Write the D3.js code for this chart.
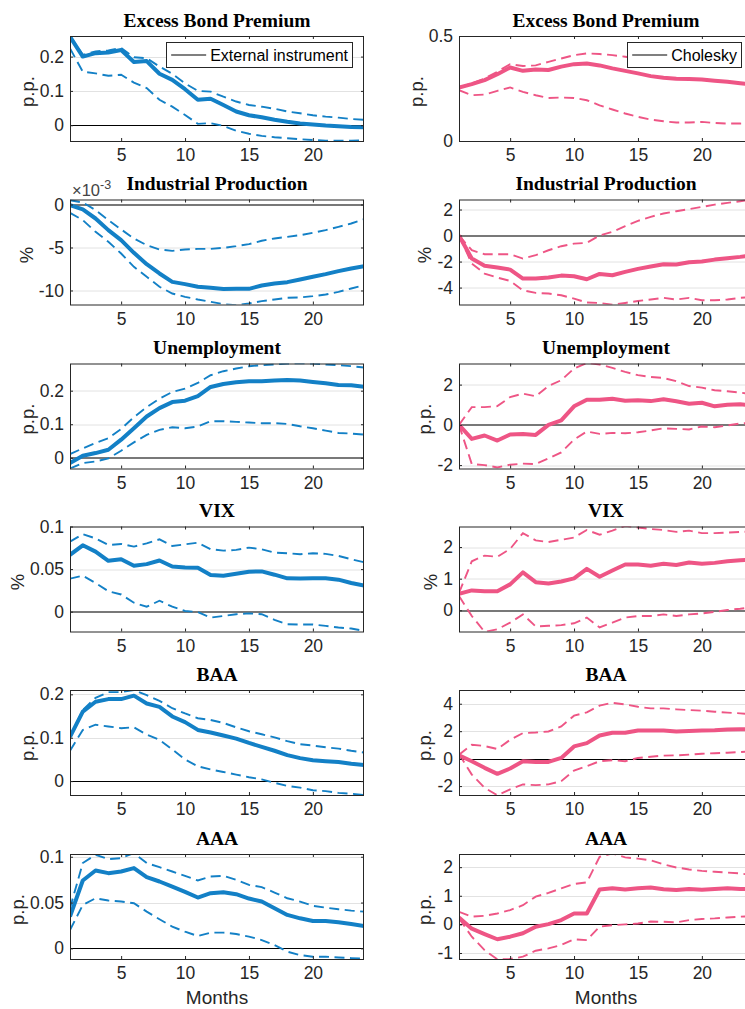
<!DOCTYPE html>
<html><head><meta charset="utf-8">
<script src="https://cdn.jsdelivr.net/npm/d3@7"></script>
<style>body{margin:0;background:#fff;overflow:hidden} svg{display:block}</style>
</head><body><svg id="c" width="745" height="1009"></svg>
<script>
const months = [1,2,3,4,5,6,7,8,9,10,11,12,13,14,15,16,17,18,19,20,21,22,23,24];
const xTicks = [5,10,15,20];
const titles = ["Excess Bond Premium","Industrial Production","Unemployment","VIX","BAA","AAA"];
const yLabels = ["p.p.","%","p.p.","%","p.p.","p.p."];
const legendLabels = ["External instrument","Cholesky"];

// External instrument (left column)
const ebpExtIrf = [0.258,0.200,0.210,0.212,0.219,0.184,0.187,0.150,0.132,0.105,0.074,0.077,0.059,0.040,0.029,0.023,0.016,0.010,0.005,0.002,-0.001,-0.003,-0.005,-0.006];
const ebpExtUp  = [0.260,0.205,0.215,0.218,0.225,0.198,0.195,0.171,0.150,0.122,0.100,0.098,0.083,0.069,0.059,0.054,0.048,0.040,0.035,0.029,0.025,0.022,0.018,0.016];
const ebpExtLo  = [0.224,0.156,0.151,0.144,0.147,0.124,0.108,0.074,0.054,0.030,0.004,0.006,-0.002,-0.016,-0.025,-0.031,-0.035,-0.038,-0.041,-0.043,-0.045,-0.045,-0.045,-0.044];
// Industrial production, in units of 1e-3
const ipExtIrf = [-0.08,-0.58,-1.63,-2.98,-4.15,-5.62,-6.94,-8.02,-9.00,-9.26,-9.57,-9.69,-9.84,-9.81,-9.81,-9.42,-9.19,-9.03,-8.72,-8.41,-8.10,-7.75,-7.44,-7.17];
const ipExtUp  = [0.50,0.23,-0.66,-1.82,-2.90,-3.95,-4.73,-5.23,-5.39,-5.23,-5.16,-5.16,-5.04,-4.84,-4.61,-4.22,-3.95,-3.76,-3.57,-3.29,-2.98,-2.60,-2.21,-1.71];
const ipExtLo  = [-0.97,-1.82,-3.18,-4.34,-5.70,-7.25,-8.41,-9.57,-10.35,-10.74,-11.05,-11.32,-11.59,-11.70,-11.51,-11.24,-11.05,-10.85,-10.81,-10.66,-10.47,-10.16,-9.77,-9.38];
const unExtIrf = [-0.016,0.006,0.014,0.024,0.054,0.088,0.123,0.148,0.166,0.170,0.184,0.211,0.220,0.225,0.228,0.228,0.230,0.232,0.230,0.226,0.222,0.217,0.216,0.212];
const unExtUp  = [0.011,0.028,0.044,0.058,0.086,0.121,0.151,0.176,0.196,0.206,0.223,0.246,0.258,0.266,0.273,0.276,0.278,0.281,0.282,0.281,0.278,0.276,0.273,0.269];
const unExtLo  = [-0.032,-0.016,-0.011,-0.002,0.021,0.046,0.068,0.083,0.091,0.088,0.093,0.109,0.109,0.107,0.105,0.103,0.103,0.101,0.094,0.088,0.081,0.074,0.072,0.069];
const vixExtIrf = [0.0667,0.0779,0.0705,0.0597,0.0616,0.0539,0.0558,0.0601,0.0531,0.0519,0.0516,0.0430,0.0422,0.0446,0.0469,0.0473,0.0434,0.0391,0.0388,0.0391,0.0391,0.0376,0.0337,0.0306];
const vixExtUp  = [0.0822,0.0911,0.0860,0.0783,0.0795,0.0764,0.0802,0.0849,0.0771,0.0791,0.0810,0.0733,0.0717,0.0725,0.0752,0.0733,0.0694,0.0686,0.0674,0.0686,0.0678,0.0655,0.0616,0.0581];
const vixExtLo  = [0.0388,0.0422,0.0337,0.0240,0.0202,0.0105,0.0058,0.0128,0.0058,0.0008,-0.0004,-0.0070,-0.0050,-0.0030,-0.0020,-0.0030,-0.0097,-0.0147,-0.0151,-0.0151,-0.0167,-0.0186,-0.0198,-0.0225];
const baaExtIrf = [0.102,0.160,0.183,0.189,0.189,0.197,0.179,0.171,0.149,0.136,0.118,0.112,0.105,0.098,0.088,0.079,0.070,0.060,0.053,0.048,0.046,0.044,0.040,0.037];
const baaExtUp  = [0.101,0.164,0.192,0.205,0.205,0.210,0.198,0.185,0.168,0.156,0.145,0.141,0.134,0.124,0.115,0.108,0.101,0.092,0.085,0.082,0.078,0.075,0.070,0.066];
const baaExtLo  = [0.070,0.118,0.130,0.126,0.122,0.124,0.107,0.095,0.073,0.050,0.034,0.027,0.021,0.015,0.009,0.004,-0.004,-0.011,-0.015,-0.021,-0.023,-0.027,-0.029,-0.032];
const aaaExtIrf = [0.0347,0.0741,0.0850,0.0821,0.0839,0.0876,0.0777,0.0730,0.0675,0.0617,0.0555,0.0602,0.0613,0.0591,0.0544,0.0511,0.0438,0.0365,0.0328,0.0299,0.0299,0.0285,0.0266,0.0245];
const aaaExtUp  = [0.0438,0.0931,0.1022,0.0974,0.0985,0.1040,0.0931,0.0887,0.0839,0.0792,0.0741,0.0785,0.0792,0.0748,0.0693,0.0668,0.0609,0.0547,0.0511,0.0464,0.0445,0.0427,0.0412,0.0401];
const aaaExtLo  = [0.0200,0.0474,0.0547,0.0522,0.0511,0.0493,0.0401,0.0318,0.0237,0.0182,0.0135,0.0172,0.0172,0.0157,0.0128,0.0091,0.0036,-0.0036,-0.0073,-0.0091,-0.0091,-0.0099,-0.0106,-0.0110];

// Cholesky (right column)
const ebpCholIrf = [0.255,0.271,0.290,0.318,0.350,0.334,0.341,0.338,0.354,0.366,0.369,0.360,0.346,0.334,0.322,0.309,0.301,0.296,0.295,0.293,0.287,0.282,0.275,0.268];
const ebpCholUp  = [0.255,0.274,0.298,0.330,0.366,0.357,0.360,0.377,0.393,0.409,0.417,0.414,0.409,0.401,0.393,0.387,0.383,0.380,0.378,0.376,0.373,0.370,0.367,0.364];
const ebpCholLo  = [0.242,0.218,0.221,0.239,0.255,0.234,0.218,0.205,0.207,0.205,0.194,0.170,0.150,0.131,0.115,0.102,0.094,0.088,0.088,0.091,0.086,0.083,0.083,0.081];
const ipCholIrf = [0,-1.77,-2.33,-2.46,-2.62,-3.31,-3.31,-3.23,-3.08,-3.13,-3.36,-2.95,-3.05,-2.79,-2.56,-2.38,-2.21,-2.23,-2.05,-2.00,-1.85,-1.74,-1.64,-1.49];
const ipCholUp  = [0,-1.13,-1.44,-1.44,-1.44,-1.77,-1.51,-1.13,-0.82,-0.62,-0.56,0.00,0.28,0.72,1.13,1.44,1.69,1.87,2.03,2.20,2.38,2.51,2.64,2.77];
const ipCholLo  = [0,-2.15,-2.92,-3.23,-3.49,-4.21,-4.41,-4.46,-4.59,-4.85,-5.15,-5.18,-5.31,-5.18,-5.03,-4.92,-4.79,-4.92,-4.79,-4.97,-4.97,-4.92,-4.79,-4.72];
const unCholIrf = [0,-0.70,-0.53,-0.78,-0.48,-0.45,-0.50,0.00,0.22,0.92,1.25,1.25,1.30,1.20,1.22,1.18,1.27,1.17,1.05,1.10,0.92,1.00,1.02,0.97];
const unCholUp  = [0,0.88,0.88,0.93,1.38,1.55,1.42,1.93,2.22,2.80,3.08,3.00,2.83,2.63,2.47,2.38,2.33,2.17,1.93,1.85,1.72,1.67,1.60,1.53];
const unCholLo  = [0,-1.95,-2.00,-2.12,-1.98,-1.93,-1.95,-1.67,-1.37,-0.73,-0.33,-0.45,-0.40,-0.42,-0.37,-0.28,-0.17,-0.20,-0.23,-0.08,-0.12,-0.03,0.07,0.10];
const vixCholIrf = [0.52,0.63,0.60,0.60,0.82,1.20,0.89,0.85,0.91,1.01,1.31,1.06,1.26,1.45,1.45,1.41,1.47,1.43,1.51,1.47,1.50,1.55,1.58,1.60];
const vixCholUp  = [0.55,1.55,1.73,1.69,1.94,2.44,2.21,2.16,2.23,2.30,2.54,2.39,2.52,2.67,2.62,2.57,2.54,2.48,2.52,2.44,2.44,2.46,2.48,2.49];
const vixCholLo  = [0.45,-0.18,-0.68,-0.60,-0.39,-0.13,-0.51,-0.49,-0.47,-0.41,-0.23,-0.54,-0.39,-0.23,-0.18,-0.18,-0.13,-0.18,-0.13,-0.10,-0.05,0.01,0.05,0.10];
const baaCholIrf = [0.24,-0.19,-0.67,-1.11,-0.72,-0.19,-0.24,-0.24,0.05,0.89,1.13,1.69,1.88,1.88,2.05,2.05,2.05,1.98,2.02,2.05,2.07,2.12,2.14,2.14];
const baaCholUp  = [0.29,1.01,0.92,0.70,1.37,1.86,1.90,1.98,2.34,3.13,3.37,3.86,4.07,3.95,3.78,3.66,3.66,3.59,3.54,3.49,3.42,3.35,3.30,3.23];
const baaCholLo  = [0.34,-1.16,-2.12,-2.67,-2.24,-1.88,-1.93,-1.88,-1.64,-0.87,-0.55,-0.19,-0.12,-0.19,0.05,0.14,0.22,0.24,0.29,0.36,0.39,0.43,0.48,0.53];
const aaaCholIrf = [0.24,-0.15,-0.34,-0.52,-0.43,-0.31,-0.08,0.01,0.15,0.38,0.38,1.22,1.26,1.22,1.26,1.29,1.23,1.20,1.24,1.21,1.24,1.26,1.24,1.23];
const aaaCholUp  = [0.44,0.27,0.30,0.38,0.50,0.67,0.97,1.10,1.26,1.41,1.47,2.36,2.48,2.34,2.30,2.24,2.10,1.99,1.92,1.87,1.84,1.81,1.78,1.72];
const aaaCholLo  = [0.21,-0.43,-0.90,-1.22,-1.21,-1.13,-0.92,-0.84,-0.72,-0.52,-0.55,-0.08,-0.03,0.00,0.03,0.10,0.09,0.07,0.15,0.19,0.21,0.24,0.27,0.29];

// axis ranges and tick values
const leftDomains  = [[-0.046,0.26],[-11.63,0.58],[-0.032,0.281],[-0.0233,0.1],[-0.032,0.21],[-0.0116,0.103]];
const rightDomains = [[0,0.5],[-5.3,2.77],[-2.17,3.05],[-0.67,2.65],[-2.65,5],[-1.21,2.46]];
const leftTicks  = [[0,0.1,0.2],[-10,-5,0],[0,0.1,0.2],[0,0.05,0.1],[0,0.1,0.2],[0,0.05,0.1]];
const rightTicks = [[0,0.5],[-4,-2,0,2],[-2,0,2],[0,1,2],[-2,0,2,4],[-1,0,1,2]];

const leftSeries = [[ebpExtIrf,ebpExtUp,ebpExtLo],[ipExtIrf,ipExtUp,ipExtLo],[unExtIrf,unExtUp,unExtLo],[vixExtIrf,vixExtUp,vixExtLo],[baaExtIrf,baaExtUp,baaExtLo],[aaaExtIrf,aaaExtUp,aaaExtLo]];
const rightSeries = [[ebpCholIrf,ebpCholUp,ebpCholLo],[ipCholIrf,ipCholUp,ipCholLo],[unCholIrf,unCholUp,unCholLo],[vixCholIrf,vixCholUp,vixCholLo],[baaCholIrf,baaCholUp,baaCholLo],[aaaCholIrf,aaaCholUp,aaaCholLo]];

const BLUE = "#1380c6", PINK = "#ee5585", AX = "#262626", GRID = "#e2e2e2";
const colX = [70, 459];
const plotW = 294, plotH = 105;
const rowTop = [36, 199.5, 363.5, 526.5, 690, 854];
const SANS = "'Liberation Sans', Arial, sans-serif";
const SERIF = "'Liberation Serif', 'Times New Roman', serif";

const svg = d3.select("#c");
const defs = svg.append("defs");
let clipN = 0;

function drawPanel(col, row) {
  const x0 = colX[col], y0 = rowTop[row];
  const dom = col === 0 ? leftDomains[row] : rightDomains[row];
  const ticks = col === 0 ? leftTicks[row] : rightTicks[row];
  const series = col === 0 ? leftSeries[row] : rightSeries[row];
  const color = col === 0 ? BLUE : PINK;
  const x = d3.scaleLinear().domain([1, 24]).range([0, plotW]);
  const y = d3.scaleLinear().domain(dom).range([plotH, 0]);
  const g = svg.append("g").attr("transform", `translate(${x0},${y0})`);
  const cid = "clip" + (clipN++);
  defs.append("clipPath").attr("id", cid).append("rect").attr("width", plotW).attr("height", plotH);

  // grid
  g.append("g").selectAll("line").data(ticks).join("line")
    .attr("x1", 0).attr("x2", plotW)
    .attr("y1", d => Math.round(y(d)) + 0.5).attr("y2", d => Math.round(y(d)) + 0.5)
    .attr("stroke", GRID).attr("stroke-width", 1);

  const pg = g.append("g").attr("clip-path", `url(#${cid})`);
  // zero line
  pg.append("line").attr("x1", 0).attr("x2", plotW)
    .attr("y1", Math.round(y(0)) + 0.5).attr("y2", Math.round(y(0)) + 0.5)
    .attr("stroke", "#000").attr("stroke-width", 1.1);

  const line = d3.line().x((d, i) => x(months[i])).y(d => y(d));
  pg.append("path").attr("d", line(series[1])).attr("fill", "none").attr("stroke", color)
    .attr("stroke-width", 1.9).attr("stroke-dasharray", "10,5.5");
  pg.append("path").attr("d", line(series[2])).attr("fill", "none").attr("stroke", color)
    .attr("stroke-width", 1.9).attr("stroke-dasharray", "10,5.5");
  pg.append("path").attr("d", line(series[0])).attr("fill", "none").attr("stroke", color)
    .attr("stroke-width", 4).attr("stroke-linejoin", "round");

  // axes
  const xb = g.append("g").attr("transform", `translate(0,${plotH})`)
    .call(d3.axisBottom(x).tickValues(xTicks).tickSizeInner(-3).tickSizeOuter(0).tickPadding(8));
  const xt = g.append("g").call(d3.axisTop(x).tickValues(xTicks).tickSizeInner(-3).tickSizeOuter(0).tickFormat(""));
  const yl = g.append("g").call(d3.axisLeft(y).tickValues(ticks).tickSizeInner(-3).tickSizeOuter(0).tickPadding(6).tickFormat(d => String(d)));
  const yr = g.append("g").attr("transform", `translate(${plotW},0)`)
    .call(d3.axisRight(y).tickValues(ticks).tickSizeInner(-3).tickSizeOuter(0).tickFormat(""));
  [xb, xt, yl, yr].forEach(a => {
    a.select(".domain").remove();
    a.selectAll("line").attr("stroke", AX);
    a.selectAll("text").attr("fill", AX).style("font-family", SANS).style("font-size", "17.5px");
  });
  xb.selectAll("text").attr("dy", "0.71em");
  g.append("rect").attr("x", 0.5).attr("y", 0.5).attr("width", plotW - 1).attr("height", plotH)
    .attr("fill", "none").attr("stroke", AX).attr("stroke-width", 1);

  // y label placed just left of the widest tick label
  let minX = 0;
  yl.selectAll("text").each(function() { minX = Math.min(minX, this.getBBox().x); });
  const lx = minX - 6;
  g.append("text").attr("transform", `translate(${lx},${plotH / 2 + 3}) rotate(-90)`)
    .attr("text-anchor", "middle").attr("fill", AX)
    .style("font-family", SANS).style("font-size", "18.5px").text(yLabels[row]);

  // title
  g.append("text").attr("x", plotW / 2).attr("y", -9.5).attr("text-anchor", "middle")
    .attr("fill", "#000").style("font-family", SERIF).style("font-weight", "bold").style("font-size", "19.5px")
    .text(titles[row]);

  // exponent label for IP external
  if (col === 0 && row === 1) {
    const t = g.append("text").attr("x", 2).attr("y", -4).attr("fill", "#444")
      .style("font-family", SANS).style("font-size", "16.5px");
    t.append("tspan").text("\u00d710");
    t.append("tspan").attr("dy", -7).style("font-size", "12.5px").text("-3");
  }

  // x label on last row
  if (row === 5) {
    g.append("text").attr("x", plotW / 2).attr("y", plotH + 45).attr("text-anchor", "middle")
      .attr("fill", AX).style("font-family", SANS).style("font-size", "19px").text("Months");
  }

  // legend on first row
  if (row === 0) {
    const lg = g.append("g");
    const txt = lg.append("text").attr("fill", "#000").style("font-family", SANS).style("font-size", "16px")
      .text(legendLabels[col]);
    const tw = txt.node().getComputedTextLength();
    const bw = 44 + tw + 4, bh = 25;
    const bx = plotW - 12 - bw, by = 6;
    lg.insert("rect", "text").attr("x", Math.round(bx) + 0.5).attr("y", by + 0.5).attr("width", Math.round(bw)).attr("height", bh)
      .attr("fill", "#fff").attr("stroke", AX).attr("stroke-width", 1);
    lg.append("line").attr("x1", bx + 5).attr("x2", bx + 40).attr("y1", by + bh / 2 + 0.5).attr("y2", by + bh / 2 + 0.5)
      .attr("stroke", "#000").attr("stroke-width", 1.2);
    txt.attr("x", bx + 44).attr("y", by + bh / 2 + 6);
  }
}

for (let r = 0; r < 6; r++) { drawPanel(0, r); drawPanel(1, r); }
</script>
</body></html>
